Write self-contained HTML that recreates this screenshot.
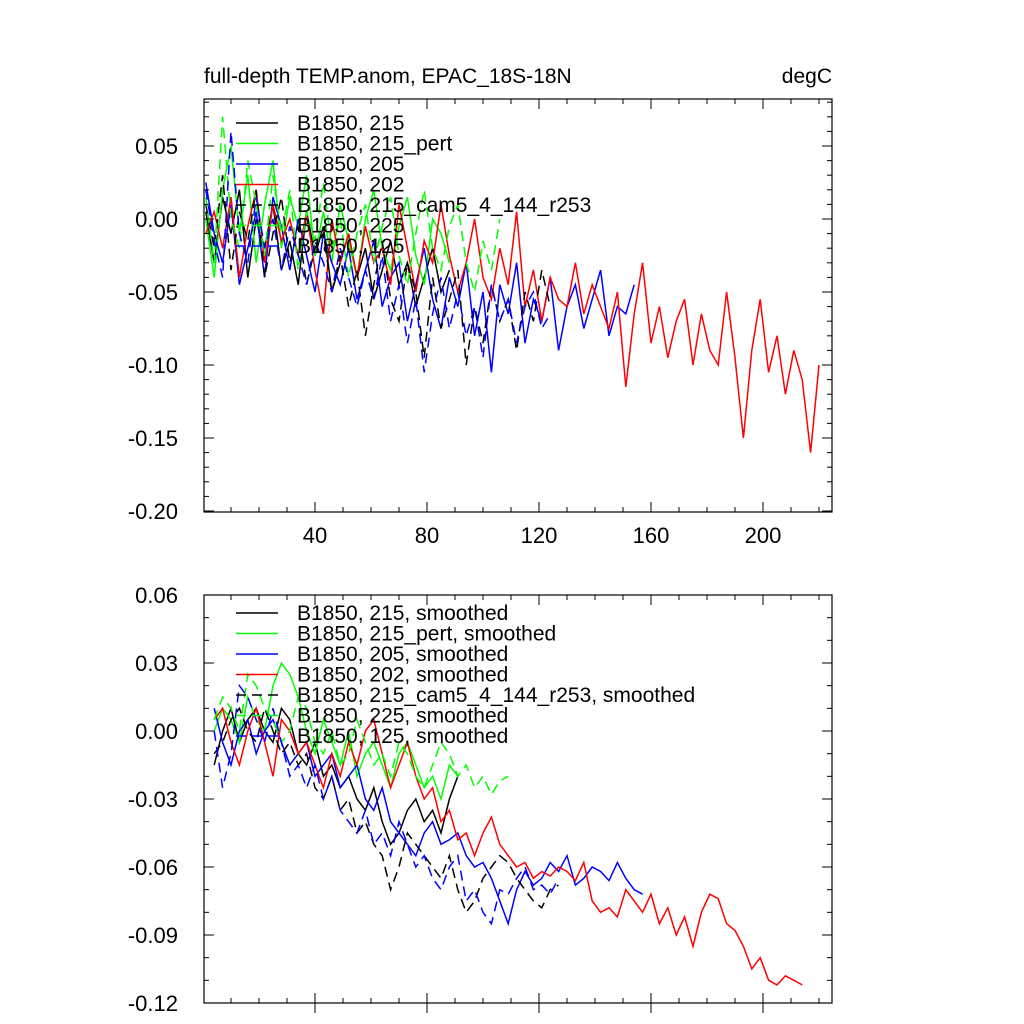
<!DOCTYPE html>
<html><head><meta charset="utf-8"><style>
html,body{margin:0;padding:0;background:#fff;}
svg{display:block;font-family:"Liberation Sans",sans-serif;}
</style></head><body>
<svg id="chart" width="1024" height="1024" viewBox="0 0 1024 1024"></svg>
<script>
// ---- data (values in 1e-3 degC), x step 3 ----
const xStep = 3;
const xTicks = [40, 80, 120, 160, 200];
const topYTicks = [0.05, 0.00, -0.05, -0.10, -0.15, -0.20];
const botYTicks = [0.06, 0.03, 0.00, -0.03, -0.06, -0.09, -0.12];
const names = ["B1850, 215","B1850, 215_pert","B1850, 205","B1850, 202","B1850, 215_cam5_4_144_r253","B1850, 225","B1850, 125"];
const colors = ["#000","#00ff00","#0000ff","#ff0000","#000","#00ff00","#0000ff"];
const dashed = [false,false,false,false,true,true,true];
const topStart = [1,1,1,1,1,1,1];
const botStart = [4,4,4,4,4,4,4];
const top215 = [5,-30,15,-10,20,-40,0,-20,10,-35,-15,-45,5,-25,-5,-50,-30,-10,-40,-20,-55,-35,-15,-45,-30,-60,-40,-20,-50,-35];
const top215pert = [0,-40,20,50,-10,30,-30,10,40,-20,15,-5,30,-25,5,-30,10,-15,-40,0,20,-20,-35,-5,15,-25,-45,0,-10,-30];
const top205 = [25,-10,-30,10,-45,-20,5,-40,15,-5,-35,0,-25,-50,-10,-30,-45,-20,-55,-35,-15,-60,-40,-30,-70,-45,-20,-55,-75,-40,-60,-30,-80,-50,-105,-45,-65,-30,-85,-55,-70,-40,-90,-60,-45,-75,-55,-35,-80,-60,-65,-45];
const top202 = [-10,5,-20,15,-40,-5,20,-30,10,-15,0,-25,5,-35,-65,0,-30,-10,-40,-5,-30,-20,-45,10,-20,-50,-15,-30,10,-25,-50,-30,0,-40,-55,-20,-45,5,-60,-35,-70,-40,-55,-60,-30,-65,-45,-60,-75,-50,-115,-65,-30,-85,-60,-95,-70,-55,-100,-65,-90,-100,-50,-95,-150,-90,-55,-105,-80,-120,-90,-110,-160,-100];
const topCam5 = [10,-20,30,-35,5,-15,20,-40,-10,15,-30,-5,-45,-20,-10,-50,-25,-60,-35,-80,-45,-15,-55,-70,-30,-50,-95,-40,-75,-55,-35,-100,-60,-85,-45,-70,-55,-90,-50,-70,-35,-60];
const top225 = [15,-30,70,0,-20,40,10,-25,30,-10,20,-35,5,-15,25,-20,0,-40,-10,10,-30,-5,15,-25,-45,-10,20,-20,-35,-5,10,-30,-50,-15,-35,0];
const top125 = [20,-15,-40,60,-10,-30,15,-20,0,-35,-5,-25,-45,-15,-30,-50,-20,-40,-60,-35,-55,-25,-70,-45,-85,-55,-105,-65,-40,-75,-50,-80,-60,-95,-45,-70,-55,-85,-60,-50,-75,-65];
const bot215 = [-15,0,10,-5,5,10,0,-5,10,5,-10,-15,-5,-20,-15,-25,-20,-30,-35,-25,-40,-50,-45,-35,-30,-40,-35,-45,-30,-20];
const bot215pert = [0,10,5,-5,15,5,0,20,30,25,15,0,-10,5,-5,-15,0,-20,-10,-5,-15,-25,-10,-5,-15,-25,-20,-30,-15,-20];
const bot205 = [10,-5,-15,0,5,-10,0,5,-5,-15,-10,-5,-20,-15,-10,-25,-20,-15,-30,-35,-25,-40,-45,-50,-55,-45,-40,-50,-48,-45,-55,-60,-58,-65,-75,-85,-70,-62,-68,-65,-58,-62,-55,-68,-65,-60,-62,-66,-58,-65,-70,-72];
const bot202 = [5,10,-5,-15,0,10,-5,-20,5,0,-10,-5,-15,-25,-10,-20,-5,-15,0,5,-10,-25,-15,-5,-20,-30,-25,-40,-35,-48,-45,-55,-45,-38,-50,-55,-60,-58,-65,-62,-64,-60,-62,-66,-58,-75,-80,-78,-82,-70,-75,-80,-72,-85,-78,-90,-82,-95,-80,-72,-74,-85,-88,-95,-105,-100,-110,-112,-108,-110,-112];
const botCam5 = [-10,-5,5,10,0,-5,10,0,-10,-5,-15,-10,-25,-30,-20,-35,-30,-45,-40,-50,-55,-70,-60,-45,-50,-55,-60,-65,-55,-70,-80,-75,-65,-60,-55,-58,-65,-70,-75,-78,-70,-68];
const bot225 = [5,15,10,0,25,20,10,5,-5,0,15,10,-5,-10,0,-15,-10,5,-5,-15,-10,-20,-5,-10,-20,-25,-15,-5,-10,-20,-15,-25,-20,-28,-22,-20];
const bot125 = [0,-25,-10,20,15,5,-5,10,-5,-20,-15,-25,-15,-30,-20,-35,-40,-45,-35,-50,-45,-55,-40,-50,-60,-55,-65,-70,-60,-55,-75,-70,-80,-85,-70,-72,-65,-60,-70,-68,-72,-65];
const topSeries = [top215, top215pert, top205, top202, topCam5, top225, top125];
const botSeries = [bot215, bot215pert, bot205, bot202, botCam5, bot225, bot125];

const NS = "http://www.w3.org/2000/svg";
const svg = document.getElementById("chart");
function mk(tag, attrs, parent) {
  const e = document.createElementNS(NS, tag);
  for (const k in attrs) e.setAttribute(k, attrs[k]);
  (parent || svg).appendChild(e);
  return e;
}
const X0 = 204, X1 = 832;
function xs(v) { return 203 + 2.8 * v; }
function panel(cfg) {
  const g = mk("g", {});
  
  
  const ys = v => cfg.yTop + (cfg.vTop - v) * cfg.ppu;
  const sg = mk("g", {}, g);
  
  
  cfg.series.forEach((arr, i) => {
    const pts = arr.map((v, j) => xs(cfg.start[i] + j * xStep).toFixed(1) + "," + ys(v / 1000).toFixed(1)).join(" ");
    const pl = mk("polyline", {points: pts, fill: "none", stroke: colors[i], "stroke-width": 1.5, "stroke-dasharray": dashed[i] ? "10,6" : "none"}, sg);
    
    
  });
  const fr = mk("rect", {x: X0, y: cfg.yTop, width: X1 - X0, height: cfg.yBot - cfg.yTop, fill: "none", stroke: "#000", "stroke-width": 1.2}, g);
  
  
  const yt = mk("g", {}, g);
  
  
  const vmin = cfg.yTicks[cfg.yTicks.length - 1];
  for (let v = Math.round(vmin * 100); v <= Math.round(cfg.vTop * 100); v++) {
    const y = ys(v / 100);
    if (y < cfg.yTop - 0.5 || y > cfg.yBot + 0.5) continue;
    const major = cfg.yTicks.some(t => Math.round(t * 100) === v);
    const L = major ? 10 : 5;
    mk("line", {x1: X0, x2: X0 + L, y1: y, y2: y, stroke: "#000"}, yt);
    mk("line", {x1: X1, x2: X1 - L, y1: y, y2: y, stroke: "#000"}, yt);
  }
  cfg.yTicks.forEach(t => {
    const tx = mk("text", {x: 178, y: ys(t) + 8, "text-anchor": "end", "font-size": 22}, yt);
    tx.textContent = t.toFixed(2);
  });
  const xt = mk("g", {}, g);
  
  
  for (let v = 10; v <= 220; v += 10) {
    const x = xs(v);
    const major = xTicks.includes(v);
    const L = major ? 10 : 5;
    mk("line", {x1: x, x2: x, y1: cfg.yBot, y2: cfg.yBot - L, stroke: "#000"}, xt);
    mk("line", {x1: x, x2: x, y1: cfg.yTop, y2: cfg.yTop + L, stroke: "#000"}, xt);
    if (cfg.outTicks && major) mk("line", {x1: x, x2: x, y1: cfg.yBot, y2: cfg.yBot + 10, stroke: "#000"}, xt);
  }
  if (cfg.xLabels) xTicks.forEach(t => {
    const tx = mk("text", {x: xs(t), y: cfg.yBot + 31, "text-anchor": "middle", "font-size": 22}, xt);
    tx.textContent = t;
  });
  const lg = mk("g", {}, g);
  
  
  names.forEach((n, i) => {
    const y = cfg.legY + i * 20.5;
    const ln = mk("line", {x1: 236, x2: 278, y1: y, y2: y, stroke: colors[i], "stroke-width": 1.5, "stroke-dasharray": dashed[i] ? "10,6" : "none"}, lg);
    
    
    const tx = mk("text", {x: 297, y: y + 7, "font-size": 21}, lg);
    
    
    tx.textContent = n + cfg.suffix;
  });
}
panel({name: "top-panel", yTop: 99, yBot: 512, vTop: 0.05 + 47 / 1460, ppu: 1460, yTicks: topYTicks, series: topSeries, start: topStart, xLabels: true, legY: 123, suffix: ""});
panel({name: "bottom-panel", yTop: 595, yBot: 1003, vTop: 0.06, ppu: 68 / 0.03, yTicks: botYTicks, series: botSeries, start: botStart, xLabels: false, outTicks: true, legY: 613, suffix: ", smoothed"});
const t1 = mk("text", {x: 204, y: 83, "font-size": 21});


t1.textContent = "full-depth TEMP.anom, EPAC_18S-18N";
const t2 = mk("text", {x: 832, y: 83, "font-size": 21, "text-anchor": "end"});


t2.textContent = "degC";
</script>
</body></html>
